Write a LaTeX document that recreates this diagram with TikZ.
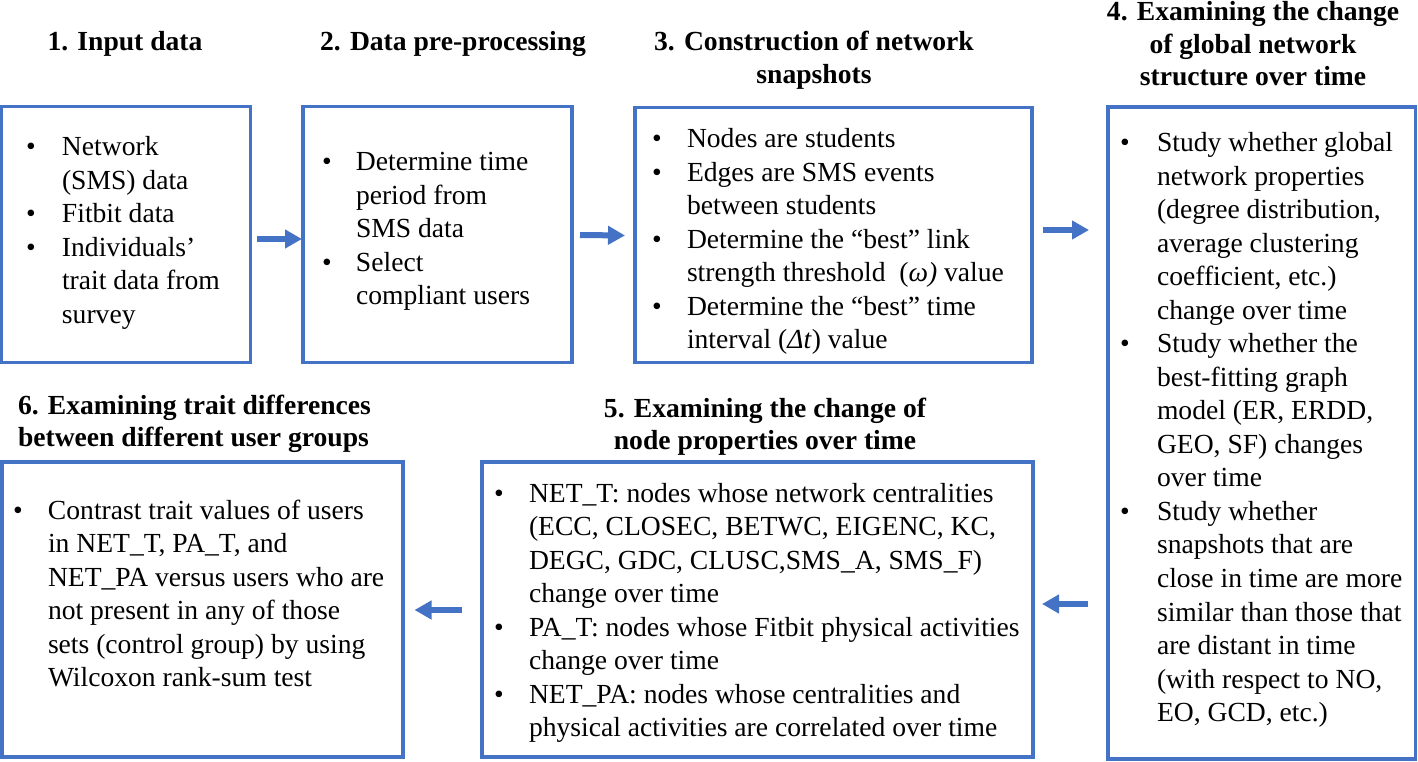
\documentclass[tikz,border=0pt]{standalone}
\usepackage{fontspec}
\setmainfont{Liberation Serif}
\usetikzlibrary{arrows.meta}
\definecolor{obl}{HTML}{4472C4}
\newlength{\bw}
\newcommand{\bul}[1]{\par\noindent\hangindent=\bw\hangafter=1\makebox[\bw][l]{\textbullet}#1\par}
\newcommand{\blist}[3]{\setlength{\bw}{#1pt}\begin{minipage}[t]{#2pt}\fontsize{27.6}{33.5}\selectfont\parskip=0pt\parindent=0pt #3\end{minipage}}
\tikzset{
  box/.style={draw=obl, line width=3.5pt, inner sep=0pt, outer sep=0pt, fill=none},
  txt/.style={anchor=base west, inner sep=0pt, outer sep=0pt},
  ttl/.style={anchor=base, inner sep=0pt, outer sep=0pt, font=\fontsize{27.6}{32.5}\selectfont\bfseries},
  arr/.style={draw=obl, line width=6pt, -{Triangle[width=18pt,length=17pt]}}
}
\begin{document}
\begin{tikzpicture}[x=1pt,y=-1pt]
\useasboundingbox (0,0) rectangle (1418,762);
% boxes
\node[box, minimum width=249pt, minimum height=256pt] (b1) at (126,234.5) {};
\node[box, minimum width=269pt, minimum height=256pt] (b2) at (437.5,234.5) {};
\node[box, minimum width=397pt, minimum height=255pt] (b3) at (833.5,235) {};
\node[box, minimum width=307.5pt, minimum height=652pt] (b4) at (1261.75,433) {};
\node[box, minimum width=551pt, minimum height=295pt] (b5) at (757.5,609.5) {};
\node[box, minimum width=401pt, minimum height=295pt] (b6) at (202.5,609.5) {};
% titles
\node[ttl] (t1) at (125,51) {\begin{tabular}[t]{@{}c@{}}1. Input data\end{tabular}};
\node[ttl] (t2) at (453,51) {\begin{tabular}[t]{@{}c@{}}2. Data pre-processing\end{tabular}};
\node[ttl] (t3) at (814,51) {\begin{tabular}[t]{@{}c@{}}3. Construction of network\\snapshots\end{tabular}};
\node[ttl] (t4) at (1253,21) {\begin{tabular}[t]{@{}c@{}}4. Examining the change\\of global network\\structure over time\end{tabular}};
\node[ttl] (t5) at (765,417) {\begin{tabular}[t]{@{}c@{}}5. Examining the change of\\node properties over time\end{tabular}};
\node[ttl, anchor=base west] (t6) at (18,414) {\begin{tabular}[t]{@{}l@{}}6. Examining trait differences\\between different user groups\end{tabular}};
% texts
\node[txt] (x1) at (26,156) {\blist{36}{220}{%
\bul{Network\\(SMS) data}
\bul{Fitbit data}
\bul{Individuals’\\trait data from\\survey}}};
\node[txt] (x2) at (322,171) {\blist{34}{245}{%
\bul{Determine time\\period from\\SMS data}
\bul{Select\\compliant users}}};
\node[txt] (x3) at (652,148) {\blist{35}{375}{%
\bul{Nodes are students}
\bul{Edges are SMS events\\between students}
\bul{Determine the “best” link\\strength threshold \ (\textit{ω)} value}
\bul{Determine the “best” time\\interval (\textit{Δt}) value}}};
\node[txt] (x4) at (1120,152) {\blist{37}{290}{%
\bul{Study whether global\\network properties\\(degree distribution,\\average clustering\\coefficient, etc.)\\change over time}
\bul{Study whether the\\best-fitting graph\\model (ER, ERDD,\\GEO, SF) changes\\over time}
\bul{Study whether\\snapshots that are\\close in time are more\\similar than those that\\are distant in time\\(with respect to NO,\\EO, GCD, etc.)}}};
\node[txt] (x5) at (494,502) {\blist{35}{535}{%
\bul{NET\_T: nodes whose network centralities\\(ECC, CLOSEC, BETWC, EIGENC, KC,\\DEGC, GDC, CLUSC,SMS\_A, SMS\_F)\\change over time}
\bul{PA\_T: nodes whose Fitbit physical activities\\change over time}
\bul{NET\_PA: nodes whose centralities and\\physical activities are correlated over time}}};
\node[txt] (x6) at (13,519) {\blist{35}{385}{%
\bul{Contrast trait values of users\\in NET\_T, PA\_T, and\\NET\_PA versus users who are\\not present in any of those\\sets (control group) by using\\Wilcoxon rank-sum test}}};
% arrows
\draw[arr] ([shift={(6.5,4.5)}]b1.east) -- ([shift={(-1,4.5)}]b2.west);
\draw[arr] ([shift={(8,0.5)}]b2.east) -- ([shift={(-10,0.5)}]b3.west);
\draw[arr] ([shift={(11,-5)}]b3.east) -- ([shift={(-19,-203)}]b4.west);
\draw[arr] ([shift={(-20,171)}]b4.west) -- ([shift={(9,-5.5)}]b5.east);
\draw[arr] ([shift={(-20,0.5)}]b5.west) -- ([shift={(11.5,0.5)}]b6.east);
\end{tikzpicture}
\end{document}
